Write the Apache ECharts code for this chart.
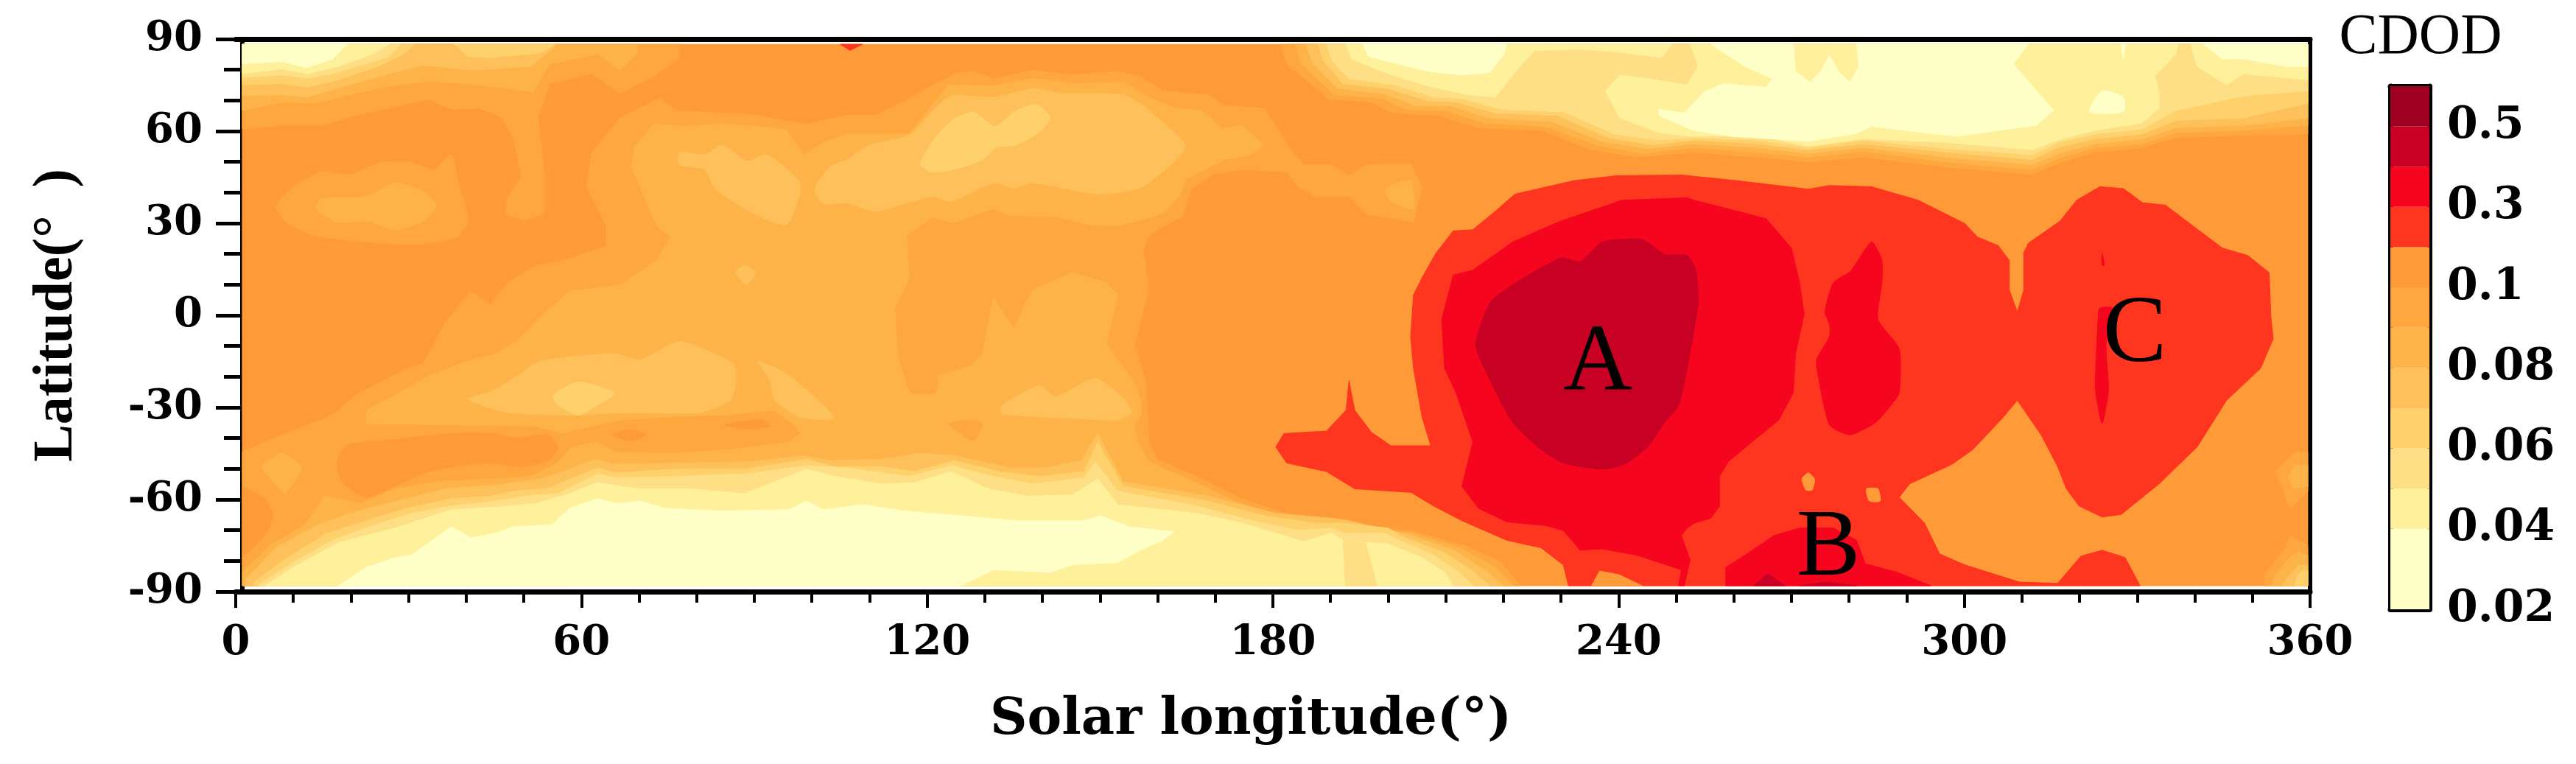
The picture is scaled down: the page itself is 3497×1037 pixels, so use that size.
<!DOCTYPE html>
<html><head><meta charset="utf-8">
<style>html,body{margin:0;padding:0;background:#fff}#c{width:3497px;height:1037px}</style>
<script src="https://cdn.jsdelivr.net/npm/echarts@6/dist/echarts.min.js"></script>
</head><body><div id="c"></div>
<script>
// Contour levels and band colours (lowest band first)
const levelBounds = [0.02,0.04,0.05,0.06,0.07,0.08,0.09,0.1,0.2,0.3,0.4,0.5,0.6];
const bandColors = ['#ffffc8','#fff09b','#fedf85','#fed16c','#fec05b','#feb348','#fea73f','#fe9a38','#fe3620','#f5051e','#c80024','#a00022'];
const colorbarLabels = {0:'0.02',2:'0.04',4:'0.06',6:'0.08',8:'0.1',10:'0.3',12:'0.5'};
const colorbarHeights = [2,1,1,1,1,1,1,1,1,1,1,1];
const lonTicks = [0,60,120,180,240,300,360];
const latTicks = [-90,-60,-30,0,30,60,90];
const fillLon = [1.15,359.6], fillLat = [-88.1,88.3];
const regionLetters = [[236.4,-16,'A'],[276.4,-76.4,'B'],[329.6,-6.6,'C']];

// Contour rings, [solar longitude, latitude]
const baseRing = [[1,89],[360,89],[360,-89],[1,-89]];
const nwL6 = [[1,60.7],[8,61.9],[14.9,61.9],[21.7,65.5],[26.6,67.5],[33.5,70.3],[37.4,67.1],[42.3,67.5],[46.2,64.3],[48.1,57.9],[49.6,45.1],[47.2,38.7],[46.7,33.1],[50.1,30.7],[53.5,33.1],[53.5,46.7],[52.5,64.3],[54.5,75.5],[61.8,78.7],[66.7,72.3],[72.6,77.9],[77,83.9],[77,89],[1,89]];
const nwL5 = [[1,66.7],[8,69.5],[14,69.1],[19.8,71.9],[26.6,74.7],[33.5,76.3],[42.3,75.1],[51.6,72.7],[54.5,81.9],[62.8,85.1],[66.7,79.9],[69.7,85.5],[69.7,89],[1,89]];
const nwL4 = [[1,71.5],[8,71.9],[12.4,71.1],[19.8,75.1],[26.6,78.7],[32.5,81.5],[41.3,79.9],[51.1,81.1],[55.5,87.5],[55.5,89],[1,89]];
const nwL3 = [[1,75.1],[8,75.5],[12.4,74.3],[17.8,76.7],[24.7,81.1],[29.1,85.1],[31,89],[1,89]];
const nwL3b = [[37.9,89],[40.3,84.3],[44.2,83.9],[53,85.5],[55.5,89]];
const nwL2 = [[1,77.5],[8,78.3],[12.4,77.3],[16.8,78.7],[21.7,81.5],[26.6,84.3],[28.6,89],[1,89]];
const nwL1 = [[1,78.7],[8,80.3],[12.4,78.7],[17.8,81.1],[23.7,85.1],[26.6,89],[1,89]];
const nwL0 = [[1,81.9],[8,82.7],[12.4,80.7],[16.8,83.5],[19.3,89],[1,89]];
const blobL6 = [[7,35.5],[10,41.9],[14.9,46.7],[19.8,45.9],[25.6,49.9],[30.5,49.9],[34.4,47.5],[37.4,52.3],[38.4,45.1],[40.3,30.7],[38.4,25.5],[31.5,23.1],[22.7,23.9],[13.9,25.9],[9,29.9]];
const blobL5 = [[13.9,34.7],[14.9,37.9],[22.7,38.7],[27.6,43.1],[32.5,40.3],[34.9,35.5],[32.5,30.7],[27.6,27.9],[22.7,30.7],[17.8,30.3]];
const centreL6 = [[1,-44.5],[9,-38.1],[14.9,-34.1],[17.8,-30.9],[20.7,-26.1],[25.6,-21.3],[29.6,-17.3],[32.5,-15.7],[34.4,-9.3],[36.4,-2.1],[40.8,7.9],[44.2,3.5],[47.2,10.7],[52.1,16.3],[56.9,17.9],[64.3,22.7],[64.3,29.1],[60.9,41.9],[61.8,53.1],[66.7,64.3],[73.6,70.7],[76.5,66.7],[84.3,65.9],[89.2,65.5],[99,62.3],[105.9,65.1],[111,65.1],[116.9,70.7],[124.7,78.7],[127.6,79.5],[131.5,77.1],[138.4,79.9],[145.2,78.3],[153.1,79.5],[157,77.9],[160.9,73.1],[168.7,71.9],[171.7,68.3],[178.5,67.5],[183.4,53.1],[185.4,49.1],[190.2,49.1],[193.2,45.5],[196.1,49.1],[203.9,49.5],[205.9,41.9],[204.4,30.3],[196.1,33.1],[193.2,38.7],[187.3,38.7],[184.4,41.9],[182.4,46.7],[174.6,47.5],[169.7,45.9],[165.8,41.1],[164.3,32.3],[158.9,26.7],[157.5,21.9],[158.5,8.3],[156,-9.3],[158,-22.1],[158.5,-41.3],[159.9,-46.9],[166.8,-52.5],[174.6,-59.7],[183.4,-65.3],[190.2,-67.7],[194.2,-68.9],[204,-70.1],[213.7,-75.3],[219.6,-80.5],[223,-89],[1,-89]];
const centreL5 = [[22.7,-35.3],[22.7,-30.9],[27.6,-26.1],[33.5,-19.7],[40.3,-14.9],[45.2,-12.5],[48.6,-8.5],[53,-0.5],[57.9,7.9],[66.7,9.9],[73.1,17.9],[75.5,25.5],[73.1,29.1],[68.7,48.3],[69.2,54.7],[72.6,62.3],[78,61.5],[84.3,62.3],[91.2,61.5],[95.6,60.3],[98.5,52.3],[102,56.3],[106.1,59.1],[116.9,59.1],[123.7,75.1],[131.5,74.7],[138.4,77.1],[145.2,75.5],[154,75.9],[158.9,70.7],[162.8,67.5],[167.7,66.7],[171.2,60.7],[174.6,61.9],[178.5,55.5],[176.1,52.3],[171.7,50.7],[164.8,44.3],[163.8,38.7],[160.9,33.1],[153.1,29.1],[148.2,29.5],[142.3,32.3],[134.5,32.5],[131.5,34.7],[124.7,30.3],[120.8,31.9],[116.4,25.9],[116.9,12.3],[114.4,2.7],[114.9,-14.1],[116.4,-22.1],[121.8,-19.7],[127.6,-16.5],[129.6,-12.5],[131.5,5.9],[135,-4.5],[137.4,5.1],[138.4,8.3],[145.2,13.9],[151.1,10.7],[153.1,6.7],[151.1,-9.3],[156,-22.1],[157,-28],[157.2,-32],[156,-36],[156.5,-41],[158.5,-47.8],[165.5,-53.5],[173.5,-60.7],[182.4,-66.3],[190.2,-68.9],[204,-70.9],[212.8,-76.1],[218.6,-82.1],[221.6,-89],[104,-89],[104,-45],[98,-38.5],[97,-35.7],[93.2,-30.9],[85.3,-32.5],[76.5,-32.9],[66.7,-34.1],[58.9,-37.3],[57,-38.5],[52.1,-36.1],[37.4,-35.7]];
const southL5 = [[1.2,-83.7],[6,-74.9],[11.9,-68.5],[15.4,-58.9],[21.7,-61.3],[27.6,-56.5],[35.4,-54.1],[45.2,-53.3],[51.1,-52.5],[55.5,-48.5],[58.4,-42.9],[62.8,-41.3],[65.8,-44.5],[76.5,-44.9],[86.3,-43.7],[96.1,-41.3],[98,-38.5],[100.5,-41.3],[105,-42],[105,-89],[1.2,-89]];
const southL4 = [[1.7,-86.1],[7,-75.7],[13.9,-68.5],[19.8,-64.5],[29.6,-59.7],[36.4,-56.5],[45.2,-55.3],[53,-53.3],[56.9,-50.9],[62.3,-46.9],[65.8,-48.5],[76.5,-48.1],[89.2,-47.7],[98.5,-45.7],[103,-47.3],[112,-46.9],[118.8,-44.9],[124.7,-45.7],[134.5,-49.7],[140.4,-49.7],[146.7,-47.3],[149.6,-38.5],[154,-54.1],[168.7,-58.9],[180.5,-64.5],[190.2,-66.1],[193.2,-66.9],[204,-71.7],[211.8,-76.9],[216.7,-82.9],[220.1,-89],[1.7,-89]];
const southL3 = [[3.1,-86.9],[9,-78.9],[15.9,-70.9],[22.7,-66.9],[29.6,-62.9],[37.4,-59.7],[44.2,-58.9],[48.1,-57.3],[54,-56.5],[62.8,-49.7],[65.8,-51.3],[76.5,-50.1],[88.3,-50.1],[99,-46.9],[103.9,-49.3],[112,-49.3],[117.8,-50.9],[124.7,-47.3],[132.5,-50.9],[139.4,-52.5],[147.2,-50.9],[149.6,-41.3],[154,-55.7],[168.7,-60.5],[178.5,-65.3],[187.3,-67.7],[192.2,-67.7],[200,-69.3],[203,-72.5],[209.8,-77.3],[214.7,-83.3],[217.6,-89],[3.1,-89]];
const southL2 = [[4.1,-87.7],[10,-80.5],[16.8,-73.3],[23.7,-68.5],[30.5,-64.5],[37.4,-62.1],[45.2,-60.5],[50.1,-58.9],[56,-58.1],[62.8,-51.7],[65.8,-52.9],[76.5,-52.5],[88.3,-51.7],[99,-48.9],[105.9,-49.7],[116.9,-52.5],[124.2,-48.9],[131.5,-52.5],[138.4,-54.9],[147.2,-52.9],[149.2,-47.7],[153.1,-57.3],[166.8,-62.1],[176.5,-66.9],[184.4,-70.1],[190.2,-69.3],[192.2,-70.9],[199.1,-70.9],[202,-73.3],[207.9,-78.1],[212.3,-83.7],[214.7,-89],[4.1,-89]];
const southL1 = [[5.1,-88.1],[10,-82.1],[17.8,-74.1],[27.6,-69.3],[37.4,-63.3],[45.2,-62.5],[52.1,-61.3],[57.9,-58.1],[62.8,-54.5],[69.7,-56.5],[78.5,-56.5],[88.3,-58.1],[99,-50.1],[103.9,-52.5],[112,-54.9],[117.8,-54.5],[124.2,-50.9],[130.6,-56.5],[137.4,-58.9],[145.2,-58.5],[149.6,-53.3],[153.1,-61.7],[166.8,-64.5],[174.6,-67.7],[185.4,-73.7],[190.2,-70.9],[192.2,-73.3],[200,-74.5],[205.9,-78.9],[209.8,-83.7],[211.3,-89],[5.1,-89]];
const stripL2 = [[192.2,-73.3],[192.6,-89],[198.1,-89],[196.1,-74.1]];
const southL0 = [[17.8,-89],[22.7,-82.1],[27.6,-78.9],[30.5,-78.1],[37.4,-68.9],[40.8,-72.5],[45.2,-70.9],[48.1,-68.9],[55,-68.1],[57.9,-62.9],[62.8,-59.7],[66.2,-61.3],[70.2,-60.5],[74.6,-62.9],[84.3,-63.7],[96.1,-63.3],[99,-60.5],[102,-63.3],[108.8,-61.7],[115.9,-63.7],[125.7,-65.3],[135.5,-66.9],[147.2,-66.9],[150.1,-65.3],[155,-68.9],[162.8,-70.5],[160.9,-73.3],[157,-76.5],[153.1,-80.5],[145.2,-81.3],[141.3,-83.7],[131.5,-82.9],[125.7,-89]];
const swBlobL7 = [[17.8,-46.1],[19.8,-42.1],[27.6,-40.5],[37.4,-38.5],[44.2,-38.5],[49.1,-40.1],[54,-38.9],[56,-42.9],[54.5,-46.9],[50.1,-49.3],[43.3,-48.1],[33.5,-50.9],[27.6,-55.7],[22.7,-59.3],[18.8,-54.9],[17.8,-50.9]];
const edgeL7 = [[1,-55.7],[5.1,-59.7],[6.6,-65.3],[5.1,-71.7],[1,-78.9]];
const lensL5 = [[4.6,-49.3],[8,-44.9],[11.4,-49.7],[8.5,-57.7],[6.1,-53.3]];
const spotL7a = [[65.3,-38.9],[68.2,-37.3],[71.2,-38.9],[68.7,-40.9]];
const spotL7b = [[84.8,-35.7],[91.2,-34.1],[92.7,-36.1],[88.3,-36.9]];
const spotL6a = [[123.7,-35.3],[127.6,-34.1],[129.6,-35.3],[128.1,-40.9],[125.7,-38.5]];
const spotL6b = [[116.4,-22],[117.4,-25.3],[121.3,-25.3],[121.8,-20]];
const lowL4a = [[40.3,-27.3],[44.2,-24.9],[47.6,-21.3],[53,-14.9],[65.8,-12.5],[70.2,-14.5],[77,-8.5],[86.3,-15.7],[86.8,-21.3],[85.8,-27.7],[80.4,-31.7],[66.7,-31.7],[58.9,-32.5],[47.2,-31.7]];
const lowL3a = [[55,-26.1],[59.4,-21.7],[65.8,-25.3],[62.8,-29.3],[59.4,-32.5],[56,-29.3]];
const lowL4b = [[90.7,-14.9],[96.1,-19.7],[103.9,-33.3],[98,-33.3],[93.6,-27.7],[92.7,-21.3]];
const lowL4c = [[133,-29.3],[139.4,-22.9],[142.3,-26.5],[149.2,-20.5],[154,-26.9],[155.5,-31.7],[153,-34.1],[147,-33.7],[133,-32.1]];
const dotL4 = [[86.8,13.9],[88.3,16.3],[90.2,13.9],[88.7,9.9]];
const highL4a = [[77,53.1],[81.4,52.3],[84.3,55.5],[88.7,50.3],[92.2,52.3],[98,42.7],[95.6,29.5],[89.2,33.9],[83.3,41.1],[81.4,47.5],[77,49.1]];
const highL4b = [[102,36.3],[100.5,41.1],[103,48.3],[106.1,50.7],[110,55.5],[116.9,58.7],[121.8,68.3],[124.2,71.5],[131.5,71.1],[138.4,73.9],[143.3,72.3],[154,71.9],[158,67.5],[164.8,55.5],[162.8,49.9],[157,41.5],[149.6,39.5],[138.4,43.1],[135,41.5],[131.5,43.1],[124.2,37.1],[120.8,38.7],[111,33.9],[106.1,36.7]];
const highL3 = [[118.8,49.1],[120.8,56.3],[124.2,63.5],[128.1,66.3],[131.7,61.5],[135.5,66.7],[138.9,68.7],[141.3,64.7],[139.9,60.3],[135.5,55.5],[132,54.7],[129.6,50.7],[124.7,47.5],[120.8,46.7]];
const lensL5b = [[199.5,41.1],[203.9,43.9],[204.4,34.7],[200.5,37.1]];
const topL6 = [[181.4,89],[182.4,81.9],[189.8,70.3],[197.1,69.5],[200.5,65.9],[208.8,65.1],[215.7,61.1],[226.5,60.3],[235.3,53.9],[243.1,51.5],[253.1,53.1],[264.1,51.5],[272.9,49.9],[282.4,51.5],[297.1,48.3],[311.8,45.9],[316.9,49.9],[322.8,53.1],[330.9,54.7],[336.7,57.9],[348.5,58.7],[360,59.1],[360,89]];
const topL5 = [[183.9,89],[184.9,81.9],[190.7,71.9],[199.1,70.7],[203,67.1],[209.8,66.7],[216.7,62.7],[227.4,61.5],[236.2,55.5],[244.1,52.7],[253.1,54.7],[264.1,53.1],[272.9,51.5],[282.4,53.5],[297.1,49.9],[311.8,47.5],[316.9,51.5],[322.8,54.7],[330.9,55.9],[336.7,59.5],[348.5,60.3],[360,61.9],[360,89]];
const topL4 = [[185.8,89],[186.8,82.3],[191.2,73.9],[199.1,72.3],[204.9,68.3],[210.8,68.3],[217.6,64.3],[228.4,63.1],[237.2,56.7],[245,54.3],[253.1,55.9],[264.1,54.7],[272.9,52.7],[282.4,54.7],[297.1,51.5],[311.8,49.1],[316.9,53.1],[322.8,55.9],[330.9,57.5],[336.7,61.1],[348.5,61.9],[360,64.3],[360,89]];
const topL3 = [[187.8,89],[188.8,82.7],[192.2,75.5],[200,73.9],[206.9,69.9],[211.8,69.5],[218.6,65.9],[229.4,65.1],[238.2,57.9],[246,55.5],[253.1,57.1],[264.1,55.9],[272.9,53.9],[282.4,55.9],[297.1,53.1],[311.8,50.7],[316.2,54.7],[322.8,57.5],[330.9,59.1],[336.7,63.5],[348.5,64.3],[360,69.1],[360,89]];
const topL2 = [[189.3,89],[190.2,83.1],[193.2,77.1],[201,75.1],[207.9,71.1],[212.8,70.7],[219.6,67.1],[230.4,66.3],[239.2,59.1],[247,57.1],[253.1,57.9],[264.1,57.1],[272.9,54.7],[282.4,57.1],[297.1,54.3],[311.8,52.3],[316.2,56.3],[322.8,59.1],[330.9,60.7],[336.7,66.7],[348.5,71.5],[360,73.1],[360,89]];
const topL1a = [[192.7,89],[193.7,83.5],[200,78.7],[206.9,74.7],[213.7,71.9],[218.6,71.1],[222.5,80.3],[225.5,86.3],[233.3,86.7],[239.2,85.9],[247.5,83.9],[249.2,89]];
const topL1b = [[252.4,89],[253.8,81.1],[251.9,75.1],[245,77.1],[240.2,78.3],[237.7,73.1],[240.2,64.3],[247,59.5],[252.9,58.3],[264.1,58.7],[272.9,55.1],[282.4,57.5],[297.1,56.3],[311.8,53.9],[316.2,57.1],[322.8,60.3],[330.9,62.7],[333.8,67.5],[333.8,72.3],[333.1,77.9],[336.7,85.1],[337.1,89]];
const topL1c = [[339.3,89],[340.4,81.1],[345.5,75.1],[348.5,78.7],[360,76.7],[360,89]];
const topL0a = [[195.6,89],[196.6,84.3],[206.9,79.5],[212.8,78.3],[217.6,79.1],[220.1,85.1],[220.6,89]];
const topL0b = [[256,89],[261.9,81.1],[266.7,77.1],[265.6,74.3],[258.2,75.5],[254.8,72.7],[251.4,65.9],[247,67.1],[247,65.1],[252.9,60.3],[259.5,58.3],[272.9,56.7],[281,59.1],[283.9,61.5],[298.6,58.3],[312.5,61.9],[315.5,66.7],[311.8,74.7],[308.5,81.9],[311.1,89],[281.3,89],[281.7,81.1],[280.2,75.9],[278.4,78.7],[276.6,84.7],[275.1,79.5],[273.3,75.9],[270.7,79.5],[270.3,89]];
const topL0c = [[321.7,66.3],[323.9,73.1],[327.6,71.1],[327.6,66.3]];
const topL0d = [[341.5,89],[344.8,83.5],[348.5,83.5],[355.8,81.1],[360,81.1],[360,89]];
const topL0e = [[327.2,89],[327.6,83.5],[328,89]];
const tipL8 = [[104.9,89],[108.8,89],[106.6,86.3]];
const eastL6a = [[354,-50.9],[357.3,-44.5],[360,-44.5],[360,-57.3],[356.5,-62.9]];
const eastL5a = [[356.2,-52.5],[357.3,-48.9],[360,-48.9],[360,-55.7],[357,-56.5]];
const eastL6b = [[352.1,-89],[352.1,-84.5],[355.8,-75.7],[356.5,-71.7],[360,-74.9],[360,-89]];
const eastL5b = [[353.2,-89],[354,-84.5],[356.5,-78.9],[358,-76.9],[360,-78.1],[360,-89]];
const eastL4b = [[355,-89],[356.5,-84.5],[358,-81.3],[360,-81.3],[360,-89]];
const eastL3b = [[357.3,-89],[357.8,-84.5],[359,-82.9],[360,-83.3],[360,-89]];
const stormL8 = [[203.9,-6.9],[204.4,6.7],[205.9,12.3],[208.3,20.3],[211.3,27.5],[214.7,27.9],[218.6,33.9],[222,39.5],[232.3,43.9],[239.7,45.5],[250.9,45.7],[260.4,43.9],[272.9,41.1],[276.6,42.3],[283.9,41.9],[292,37.5],[300.1,29.9],[302.3,25.5],[305.9,22.7],[307.8,17.9],[307.8,8.3],[309.2,1.1],[310.3,8.3],[310.3,20.3],[311.1,23.5],[316.6,30.7],[319.5,37.5],[323.5,41.9],[327.6,41.3],[330.9,36.7],[334.9,35.9],[344.8,21.9],[349.2,19.5],[352.9,13.9],[353.2,-0.5],[353.6,-7.7],[351.4,-17.3],[345.5,-27.7],[340.4,-42.9],[333.8,-54.9],[327.2,-64.9],[323.9,-65.7],[319.9,-62.1],[317.7,-56.5],[316.2,-49.3],[313.3,-38.9],[309.2,-27.7],[306.7,-33.3],[301.5,-43.7],[297.9,-48.5],[290.5,-54.9],[288.7,-59.3],[293.1,-67.7],[295.7,-77.7],[300.1,-81.3],[309.6,-86.9],[316.2,-87.3],[320.2,-78.5],[323.9,-76.5],[327.9,-78.9],[330.5,-89],[231.3,-89],[230.4,-81.3],[226.5,-75.7],[220.6,-73.3],[212.8,-66.9],[207.9,-62.1],[204,-57.7],[194.2,-56.5],[189.3,-50.9],[182.4,-48.1],[180.5,-42.9],[181.9,-38.5],[189.3,-37.7],[192.7,-30.9],[193.2,-21.3],[194.2,-30.9],[197.1,-38.1],[200.5,-42.5],[207.4,-42.5],[205.9,-33.3],[204.4,-17.3]];
const notchL7 = [[235.3,-89],[236.7,-83.3],[240.1,-84.5],[244.1,-89]];
const spotL7c = [[271.8,-53.3],[272.9,-51.3],[274,-53.3],[273.6,-56.9],[272.5,-56.9]];
const spotL7d = [[283,-56.5],[285,-56.5],[285.4,-60.5],[283.5,-60.5]];
const stormL9 = [[209.8,-17.3],[209.3,-1.3],[211.3,13.1],[214.7,14.7],[221.6,23.9],[229.4,30.3],[236.2,34.7],[240.6,37.5],[251.9,38.3],[253.1,37.5],[265.6,31.5],[270,21.9],[271.4,10.7],[272.2,0.3],[270.7,-12.5],[270.3,-25.3],[267.8,-34.1],[262.6,-42.1],[259,-47.7],[257.5,-52.5],[257.5,-62.1],[256,-66.1],[253.1,-67.7],[251.9,-69.3],[250.9,-71.7],[252.4,-79.7],[251.4,-89],[250.4,-89],[250.9,-82.9],[243.1,-78.1],[237.2,-76.1],[233.3,-76.5],[230.4,-70.1],[227.4,-68.5],[220.6,-67.3],[215.7,-62.9],[212.8,-55.7],[214.7,-41.3],[211.8,-25.3]];
const blobBL9 = [[258.6,-89],[258.6,-82.1],[262.6,-77.3],[267,-71.7],[271.4,-69.3],[277.3,-69.3],[281.3,-73.3],[282.8,-80.9],[288.3,-83.7],[294.2,-89]];
const streakL9 = [[283.9,23.9],[285.7,17.9],[285.7,10.7],[285,-1.3],[288.7,-10.9],[288.7,-25.3],[287.6,-28.5],[284.6,-34.9],[280.2,-38.9],[276.6,-35.7],[274.4,-17.3],[274.4,-14.1],[276.6,-6.9],[276.6,-2.9],[275.8,1.1],[277.3,10.7],[280.2,14.3]];
const streakCL9 = [[323.5,2.3],[325.7,2.3],[324.6,-9.3],[325,-22.1],[325,-25.3],[323.9,-35.3],[322.8,-25.3],[322.8,-17.3],[323.2,-1.3]];
const tickCL9 = [[323.9,20.3],[324.3,16.3],[323.9,16.3]];
const coreAL10 = [[215.2,-9.3],[218.1,5.1],[229.9,18.7],[233.3,17.5],[237.2,23.9],[244.1,24.7],[248,19.9],[251.9,19.5],[253.4,14.7],[253.8,4.3],[251.9,-17.3],[250.4,-29.3],[248,-34.9],[245,-42.9],[241.1,-48.5],[237.2,-50.1],[230.4,-48.1],[226.5,-43.7],[221.6,-34.9],[216.7,-17.3]];
const coreBL10a = [[263.4,-89],[265.9,-84.1],[268.9,-89]];
const coreBL10b = [[271.4,-89],[275.8,-86.9],[281.3,-89]];

// Painted in order: [band index, ring]
const patches = [
 [7,baseRing],[6,nwL6],[5,nwL5],[4,nwL4],[3,nwL3],[3,nwL3b],[2,nwL2],[1,nwL1],[0,nwL0],
 [6,blobL6],[5,blobL5],[6,centreL6],[5,centreL5],[5,southL5],[4,southL4],[3,southL3],[2,southL2],[1,southL1],[2,stripL2],[0,southL0],
 [7,swBlobL7],[7,edgeL7],[5,lensL5],[7,spotL7a],[7,spotL7b],[6,spotL6a],[6,spotL6b],
 [4,lowL4a],[3,lowL3a],[4,lowL4b],[4,lowL4c],[4,dotL4],[4,highL4a],[4,highL4b],[3,highL3],[5,lensL5b],
 [6,topL6],[5,topL5],[4,topL4],[3,topL3],[2,topL2],[1,topL1a],[1,topL1b],[1,topL1c],[0,topL0a],[0,topL0b],[0,topL0c],[0,topL0d],[0,topL0e],
 [8,tipL8],[6,eastL6a],[5,eastL5a],[6,eastL6b],[5,eastL5b],[4,eastL4b],[3,eastL3b],
 [8,stormL8],[7,notchL7],[7,spotL7c],[7,spotL7d],[9,stormL9],[9,blobBL9],[9,streakL9],[9,streakCL9],[9,tickCL9],[10,coreAL10],[10,coreBL10a],[10,coreBL10b]
];

const clamp=(v,a)=>Math.max(a[0],Math.min(a[1],v));
const serifBold='"DejaVu Serif"';
const times='"Liberation Serif"';
const black='#000';
const chart=echarts.init(document.getElementById('c'),null,{renderer:'canvas'});
const hidden={show:false};
chart.setOption({
 backgroundColor:'#fff',animation:false,
 title:{text:'CDOD',left:3281,top:8,textAlign:'center',textStyle:{fontFamily:times,fontWeight:'normal',fontSize:78,color:black}},
 grid:[{left:320,top:53,width:2816,height:750},{left:3245,top:117,width:53,height:710}],
 xAxis:[
  {gridIndex:0,type:'value',min:0,max:360,interval:60,position:'bottom',splitLine:hidden,
   name:'Solar longitude(°)',nameLocation:'middle',nameGap:140,nameTextStyle:{fontFamily:serifBold,fontWeight:'bold',fontSize:70,color:black,padding:[0,60,0,0]},
   axisLine:{show:true,onZero:false,lineStyle:{color:black,width:7}},
   axisTick:{show:true,length:22,lineStyle:{color:black,width:4}},
   minorTick:{show:true,splitNumber:6,length:15,lineStyle:{color:black,width:4}},
   axisLabel:{margin:42,fontFamily:serifBold,fontWeight:'bold',fontSize:56,color:black,showMinLabel:true,showMaxLabel:true,hideOverlap:false,formatter:v=>lonTicks.includes(v)?String(v):''}},
  {gridIndex:0,type:'value',min:0,max:360,position:'top',axisLine:{show:true,onZero:false,lineStyle:{color:black,width:7}},axisTick:hidden,axisLabel:hidden,splitLine:hidden},
  {gridIndex:1,type:'category',data:['CDOD'],position:'bottom',axisLine:{show:true,onZero:false,lineStyle:{color:black,width:7}},axisTick:hidden,axisLabel:hidden,splitLine:hidden},
  {gridIndex:1,type:'category',data:['CDOD'],position:'top',axisLine:{show:true,onZero:false,lineStyle:{color:black,width:7}},axisTick:hidden,axisLabel:hidden,splitLine:hidden}
 ],
 yAxis:[
  {gridIndex:0,type:'value',min:-90,max:90,interval:30,position:'left',offset:-9,splitLine:hidden,
   name:'Latitude(°  )',nameLocation:'middle',nameGap:214,nameRotate:90,nameTextStyle:{fontFamily:times,fontWeight:'bold',fontSize:76,color:black},
   axisLine:{show:true,onZero:false,lineStyle:{color:black,width:6}},
   axisTick:{show:true,length:36,lineStyle:{color:black,width:5}},
   minorTick:{show:true,splitNumber:3,length:25,lineStyle:{color:black,width:5}},
   axisLabel:{margin:54,fontFamily:serifBold,fontWeight:'bold',fontSize:56,color:black,showMinLabel:true,showMaxLabel:true,hideOverlap:false,formatter:v=>latTicks.includes(v)?String(v):''}},
  {gridIndex:0,type:'value',min:-90,max:90,position:'right',axisLine:{show:true,onZero:false,lineStyle:{color:black,width:6}},axisTick:hidden,axisLabel:hidden,splitLine:hidden},
  {gridIndex:1,type:'value',min:0,max:13,interval:2,position:'right',splitLine:hidden,
   axisLine:{show:true,onZero:false,lineStyle:{color:black,width:7}},axisTick:hidden,
   axisLabel:{margin:24,fontFamily:serifBold,fontWeight:'bold',fontSize:60,color:black,showMinLabel:true,hideOverlap:false,formatter:v=>colorbarLabels[v]||''}},
  {gridIndex:1,type:'value',min:0,max:13,position:'left',axisLine:{show:true,onZero:false,lineStyle:{color:black,width:7}},axisTick:hidden,axisLabel:hidden,splitLine:hidden}
 ],
 series:[
  {type:'custom',xAxisIndex:0,yAxisIndex:0,silent:true,z:1,
   data:patches.map((p,i)=>[i,p[0]]),
   encode:{x:[],y:[]},
   renderItem:(params,api)=>{
     const p=patches[params.dataIndex];
     const pts=p[1].map(q=>api.coord([clamp(q[0],fillLon),clamp(q[1],fillLat)]));
     const c=bandColors[p[0]];
     const touchesEdge=p[1].some(q=>q[0]!==clamp(q[0],fillLon)||q[1]!==clamp(q[1],fillLat));
     return {type:'polygon',shape:{points:pts,smooth:touchesEdge?0:0.2},style:{fill:c,stroke:c,lineWidth:1}};
   }},
  {type:'scatter',xAxisIndex:0,yAxisIndex:0,silent:true,z:5,symbolSize:1,itemStyle:{color:'rgba(0,0,0,0)',opacity:1},
   data:regionLetters.map(d=>({value:[d[0],d[1]],name:d[2]})),
   label:{show:true,position:'inside',formatter:'{b}',fontFamily:times,fontSize:130,color:black,opacity:1}},
  ...colorbarHeights.map((h,i)=>({type:'bar',xAxisIndex:2,yAxisIndex:2,stack:'cb',silent:true,barWidth:'100%',z:1,
     data:[h],itemStyle:{color:bandColors[i]}}))
 ]
});
</script></body></html>
